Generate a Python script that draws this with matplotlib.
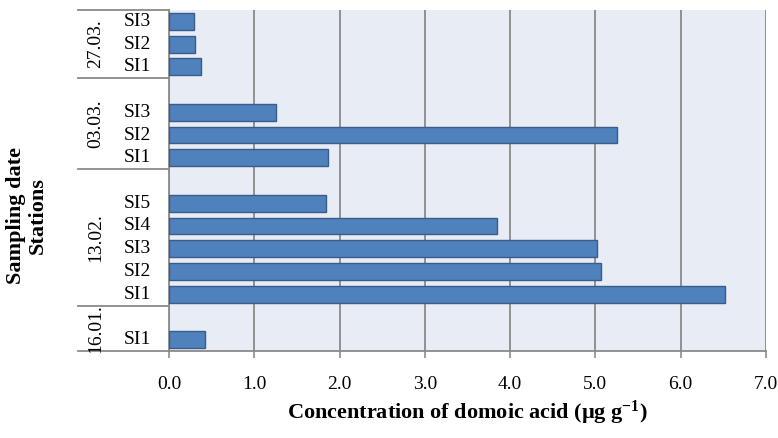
import matplotlib
matplotlib.use("Agg")
import matplotlib.pyplot as plt
import matplotlib.transforms as mtransforms

plt.rcParams['font.family'] = ['Liberation Serif', 'DejaVu Serif']
plt.rcParams['mathtext.fontset'] = 'custom'
plt.rcParams['mathtext.rm'] = 'Liberation Serif'
plt.rcParams['mathtext.bf'] = 'Liberation Serif:bold'

# Data (bottom to top, Excel-style order)
dates = ["16.01.", "13.02.", "03.03.", "27.03."]
stations = [["SI1"], ["SI1", "SI2", "SI3", "SI4", "SI5"], ["SI1", "SI2", "SI3"], ["SI1", "SI2", "SI3"]]
values = [[0.42], [6.52, 5.06, 5.02, 3.85, 1.84], [1.87, 5.25, 1.26], [0.37, 0.30, 0.29]]
# empty category rows after each group (except last)
blank_after = [1, 1, 1, 0]
xticks = [0, 1, 2, 3, 4, 5, 6, 7]

W, H = 778, 438
fig = plt.figure(figsize=(W / 100, H / 100), dpi=100)
L, R, T, B = 169, 766, 10, 351
ax = fig.add_axes([L / W, 1 - B / H, (R - L) / W, (B - T) / H])
ax.set_facecolor('#E8ECF4')

grid_c = '#8A8A8A'
bar_c = '#4F81BD'
edge_c = '#385D8A'

pos = 0
ypos, yvals, ylabels = [], [], []
bounds = [-0.5]
group_centers = []
for d, st, vals, bl in zip(dates, stations, values, blank_after):
    start = pos
    for s, v in zip(st, vals):
        ypos.append(pos)
        yvals.append(v)
        ylabels.append(s)
        pos += 1
    pos += bl
    bounds.append(pos - 0.5)
    group_centers.append((start - 0.5 + pos - 0.5) / 2)

nrows = pos
ax.barh(ypos, yvals, height=0.74, color=bar_c, edgecolor=edge_c, linewidth=1.0, zorder=3)

ax.set_xlim(0, 7)
ax.set_ylim(-0.5, nrows - 0.5)
ax.set_xticks(xticks)
ax.set_xticklabels([f"{t:.1f}" for t in xticks], fontsize=14)
ax.tick_params(axis='x', length=5, width=1.2, color=grid_c, pad=13)
ax.set_yticks([])
ax.grid(axis='x', color=grid_c, linewidth=1.3, zorder=0)
ax.grid(axis='y', visible=False)
for sp in ['top', 'right']:
    ax.spines[sp].set_visible(False)
for sp in ['left', 'bottom']:
    ax.spines[sp].set_color(grid_c)
    ax.spines[sp].set_linewidth(1.3)

trans = mtransforms.blended_transform_factory(ax.transAxes, ax.transData)
x_out = (78 - L) / (R - L)
for b in bounds:
    ax.plot([x_out, 0], [b, b], color=grid_c, linewidth=1.3, transform=trans, clip_on=False)

# station labels
x_st = (151 - L) / (R - L)
for y, s in zip(ypos, ylabels):
    ax.text(x_st, y, s, transform=trans, ha='right', va='center', fontsize=14)
# date labels
x_dt = (96 - L) / (R - L)
for c, d in zip(group_centers, dates):
    ax.text(x_dt, c, d, transform=trans, ha='center', va='center', rotation=90, fontsize=14)

fig.text(467 / W, 1 - 413 / H, "Concentration of domoic acid (µg g$\\mathbf{^{-1}}$)",
         ha='center', va='center', fontsize=16, fontweight='bold')

fig.text(16 / W, 1 - 216 / H, "Sampling date", rotation=90, ha='center', va='center', fontsize=16, fontweight='bold')
fig.text(38 / W, 1 - 216 / H, "Stations", rotation=90, ha='center', va='center', fontsize=16, fontweight='bold')

fig.savefig("out.png", dpi=100)
